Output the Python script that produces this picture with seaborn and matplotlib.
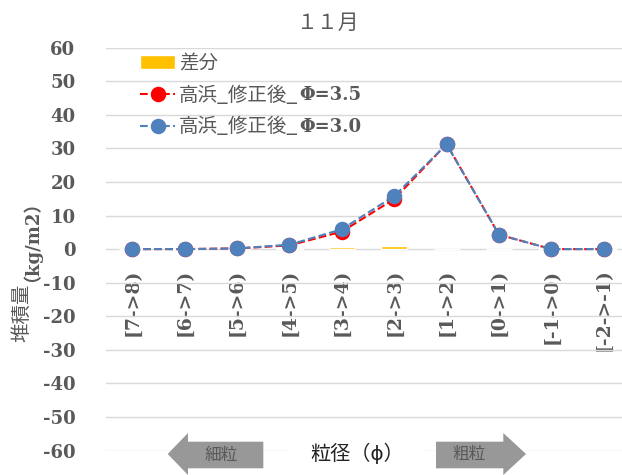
import matplotlib
matplotlib.use("Agg")
import matplotlib.pyplot as plt
from matplotlib.patches import Polygon
import seaborn as sns
import pandas as pd

# --- data -------------------------------------------------------------
categories = ["[7->8)", "[6->7)", "[5->6)", "[4->5)", "[3->4)",
              "[2->3)", "[1->2)", "[0->1)", "[-1->0)", "[-2->-1)"]
phi35 = [0.0, 0.0, 0.2, 1.1, 5.2, 14.9, 31.3, 4.3, 0.0, 0.0]
phi30 = [0.0, 0.0, 0.2, 1.3, 5.9, 15.8, 31.2, 4.3, 0.0, 0.0]
diff = [0.0, 0.0, 0.0, 0.2, 0.7, 0.9, 0.05, 0.05, 0.0, 0.0]
yticks = list(range(-60, 61, 10))

series_labels = ["差分", "高浜_修正後_", "高浜_修正後_ "]
phi_labels = ["Φ=3.5", "Φ=3.0"]

df = pd.DataFrame({"cat": categories, "p35": phi35, "p30": phi30, "diff": diff})

# --- style ------------------------------------------------------------
sns.set_style("white")
plt.rcParams["font.family"] = ["Noto Sans CJK JP", "DejaVu Sans"]
GRAY = "#595959"
JP = ["Noto Sans CJK JP", "DejaVu Sans"]
SERIF = ["DejaVu Serif", "Noto Sans CJK JP"]

W, H = 622, 475
fig = plt.figure(figsize=(W / 100, H / 100), dpi=100)


def fx(px):
    return px / W


def fy(py):
    return 1 - py / H


ax_left, ax_right, ax_top, ax_bot = 106, 630, 47.7, 450.5
ax = fig.add_axes([fx(ax_left), fy(ax_bot), fx(ax_right - ax_left), (ax_bot - ax_top) / H])

sns.barplot(data=df, x="cat", y="diff", color="#FFC000", width=0.5,
            saturation=1, ax=ax, label=series_labels[0], zorder=2)
sns.pointplot(data=df, x="cat", y="p35", color="#FF0000", errorbar=None,
              linestyle="--", marker="o", markersize=10, linewidth=1.5,
              ax=ax, label=series_labels[1], zorder=3)
sns.pointplot(data=df, x="cat", y="p30", color="#4F81BD", errorbar=None,
              linestyle="--", marker="o", markersize=10, linewidth=1.5,
              ax=ax, label=series_labels[2], zorder=4)

ax.set_ylim(-60, 60)
ax.set_xlim(-0.5, len(categories) - 0.5)
ax.set_yticks(yticks)
ax.set_yticklabels([str(t) for t in yticks])
ax.grid(axis="y", color="#D9D9D9", linewidth=1.0)
ax.grid(axis="x", visible=False)
ax.set_axisbelow(True)
for s in ax.spines.values():
    s.set_visible(False)
ax.spines["bottom"].set_position(("data", 0))
ax.set_xlabel("")
ax.set_ylabel("")
ax.tick_params(axis="y", length=0, pad=22, labelcolor=GRAY)
ax.tick_params(axis="x", length=0, pad=14, labelcolor=GRAY)
for lab in ax.get_yticklabels():
    lab.set_fontfamily(SERIF)
    lab.set_fontweight("bold")
    lab.set_fontsize(13)
for lab in ax.get_xticklabels():
    lab.set_fontfamily(SERIF)
    lab.set_fontweight("bold")
    lab.set_fontsize(13.5)
    lab.set_rotation(90)
    lab.set_va("top")
    lab.set_ha("center")

# legend: bar entry first, then the two lines
handles, labels = ax.get_legend_handles_labels()
order = [labels.index(l) for l in series_labels]
leg = ax.legend([handles[i] for i in order], [labels[i] for i in order],
                loc="upper left", bbox_to_anchor=(fx(140), fy(53)),
                bbox_transform=fig.transFigure, frameon=False,
                prop={"family": JP, "size": 14}, labelcolor=GRAY,
                handlelength=1.8, handletextpad=0.2, labelspacing=0.55,
                borderpad=0, borderaxespad=0)

# title and axis titles
fig.text(fx(328), fy(23), "１１月", ha="center", va="center",
         fontsize=15, color=GRAY, family=JP)
fig.text(fx(22), fy(313), "堆積量", rotation=90, ha="center", va="center",
         fontsize=14, color=GRAY, family=JP)
fig.text(fx(22), fy(232), "（kg/m2）", rotation=90, ha="center", va="center",
         fontsize=13, color=GRAY, family=SERIF, fontweight="bold")
fig.text(fx(357), fy(454), "粒径（ϕ）", ha="center", va="center",
         fontsize=14.5, color="#222222", family=JP,
         bbox=dict(boxstyle="square,pad=1.0", fc="white", ec="none"))

# direction arrows
arrow_c = "#989898"
left_arrow = [(167.7, 454), (188, 433), (188, 441.7), (263.3, 441.7),
              (263.3, 468.3), (188, 468.3), (188, 475)]
right_arrow = [(436, 441.7), (503.3, 441.7), (503.3, 433), (526, 454),
               (503.3, 475), (503.3, 468.3), (436, 468.3)]
for pts in (left_arrow, right_arrow):
    fig.patches.append(Polygon([(fx(x), fy(y)) for x, y in pts], closed=True,
                               transform=fig.transFigure, fc=arrow_c, ec="none",
                               zorder=5))
fig.text(fx(221.5), fy(455), "細粒", ha="center", va="center", fontsize=12,
         color=GRAY, family=JP, zorder=6)
fig.text(fx(469), fy(455), "粗粒", ha="center", va="center", fontsize=12,
         color=GRAY, family=JP, zorder=6)

# bold serif Φ part of the series names, placed right after each legend label
fig.canvas.draw()
renderer = fig.canvas.get_renderer()
for txt, phi in zip(leg.get_texts()[1:], phi_labels):
    txt.set_text(txt.get_text().rstrip())
fig.canvas.draw()
for txt, phi in zip(leg.get_texts()[1:], phi_labels):
    bb = txt.get_window_extent(renderer)
    fig.text(bb.x1 / W + 0.002, (bb.y0 + bb.y1) / 2 / H, phi, ha="left", va="center",
             fontsize=13, color=GRAY, family=SERIF, fontweight="bold")

fig.savefig("out.png", dpi=100)
